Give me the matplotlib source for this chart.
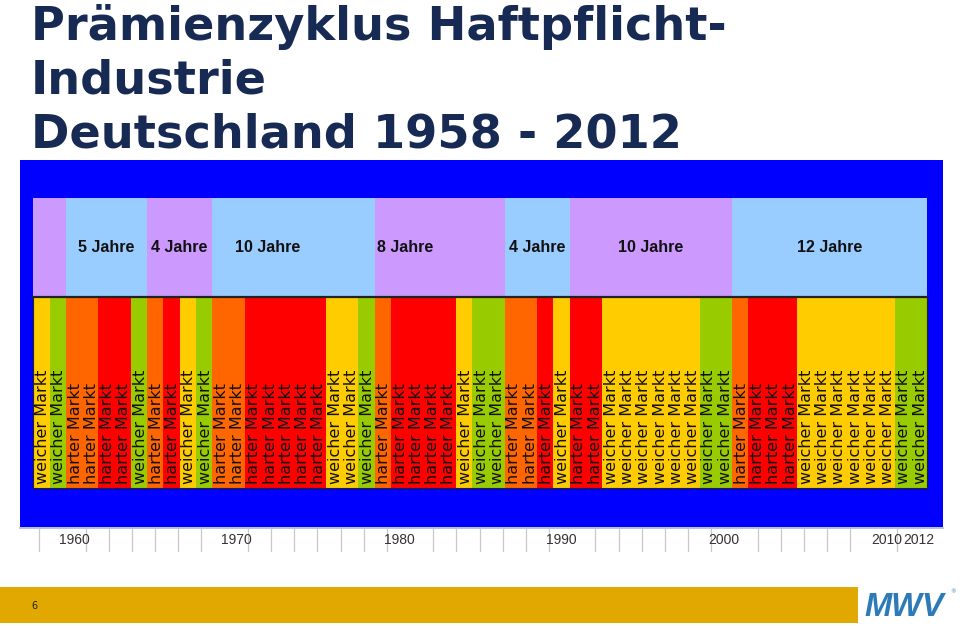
import matplotlib
matplotlib.use("Agg")
import matplotlib.pyplot as plt
from matplotlib.patches import Rectangle
from matplotlib import font_manager as fm
import numpy as np

# ---------------- data ----------------
first_year = 1958
market_phase = ["weich", "weich+", "hart", "hart", "hart+", "hart+", "weich+", "hart", "hart+",
                "weich", "weich+", "hart", "hart", "hart+", "hart+", "hart+", "hart+", "hart+",
                "weich", "weich", "weich+", "hart", "hart+", "hart+", "hart+", "hart+",
                "weich", "weich+", "weich+", "hart", "hart", "hart+", "weich", "hart+", "hart+",
                "weich", "weich", "weich", "weich", "weich", "weich", "weich+", "weich+",
                "hart", "hart+", "hart+", "hart+",
                "weich", "weich", "weich", "weich", "weich", "weich", "weich+", "weich+"]
years = np.arange(first_year, first_year + len(market_phase))

cycle_lengths = [2, 5, 4, 10, 8, 4, 10, 12]
cycle_labels = ["", "5 Jahre", "4 Jahre", "10 Jahre", "8 Jahre", "4 Jahre", "10 Jahre", "12 Jahre"]

tick_years = [1960, 1970, 1980, 1990, 2000, 2010, 2012]
tick_labels = ["1960", "1970", "1980", "1990", "2000", "2010", "2012"]

title_lines = ["Prämienzyklus Haftpflicht-", "Industrie", "Deutschland 1958 - 2012"]

# ---------------- styles ----------------
phase_color = {"weich": "#FFCC00", "weich+": "#99CC00", "hart": "#FF6600", "hart+": "#FF0000"}
phase_text = {"weich": "weicher Markt", "weich+": "weicher Markt",
              "hart": "harter Markt", "hart+": "harter Markt"}
cycle_colors = ["#CC99FF", "#99CCFF"]
label_shift = [0, 0, 0, -1.6, -2.1, 0, 0, 0]

names = {f.name for f in fm.fontManager.ttflist}
def pick(*cands):
    for c in cands:
        if c in names:
            return c
    return "DejaVu Sans"
narrow = pick("Liberation Sans Narrow", "DejaVu Sans Condensed", "Liberation Sans")

W, H = 960, 629
fig = plt.figure(figsize=(W / 100, H / 100), dpi=100)
fig.patch.set_facecolor("white")

def pos(x0, y0, x1, y1):
    return [x0 / W, 1 - y1 / H, (x1 - x0) / W, (y1 - y0) / H]

# background / decoration axes in pixel coordinates
bg = fig.add_axes([0, 0, 1, 1])
bg.set_xlim(0, W)
bg.set_ylim(H, 0)
bg.axis("off")
bg.add_patch(Rectangle((20, 160), 923, 367, facecolor="#0000FF", edgecolor="none"))
# axis strip
bg.plot([20, 943], [527.5, 527.5], color="#A9B4CC", lw=1.2)
grid_k = [0, 2, 3, 4, 5, 6, 7, 9, 10, 11, 12, 13, 14, 15, 17, 18, 19, 20, 21, 22,
          24, 25, 26, 27, 28, 29, 31, 32, 33, 34, 35, 37]
for k in grid_k:
    gx = 39.3 + 23.17 * k
    bg.plot([gx, gx], [529, 551], color="#C8C8C8", lw=0.9)
# footer
bg.add_patch(Rectangle((0, 587), 858, 36, facecolor="#E0A800", edgecolor="none"))
bg.text(31, 606, "6", fontsize=7, color="#222222", va="center", ha="left")
bg.text(864, 607, "MWV", fontsize=23.5, fontweight="bold", style="italic", color="#2C7AB8",
        va="center", ha="left", family=narrow)
bg.text(950, 592, "®", fontsize=4, color="#2C7AB8", va="center", ha="left")

# title
for i, line in enumerate(title_lines):
    bg.text(31, 40 + i * 54, line, fontsize=33.3, fontweight="bold", color="#172A54",
            family="DejaVu Sans", va="baseline", ha="left")

x0, x1 = 33.3, 927.0
xlim = (first_year - 0.5, years[-1] + 0.5)

# cycle band
ab = fig.add_axes(pos(x0, 198, x1, 296))
starts = first_year - 0.5 + np.concatenate([[0], np.cumsum(cycle_lengths)[:-1]])
ab.barh(0.5, cycle_lengths, left=starts, height=1,
        color=[cycle_colors[i % 2] for i in range(len(cycle_lengths))], edgecolor="none")
for s, L, lab, sh in zip(starts, cycle_lengths, cycle_labels, label_shift):
    if lab:
        ab.text(s + L / 2 + sh, 0.5, lab, ha="center", va="center", fontsize=11.5,
                fontweight="bold", family=narrow, color="#111111")
ab.set_xlim(*xlim)
ab.set_ylim(0, 1)
ab.axis("off")

# market columns
ac = fig.add_axes(pos(x0, 297, x1, 488))
ac.bar(years, 1, width=1, color=[phase_color[p] for p in market_phase], edgecolor="none")
for yr, p in zip(years, market_phase):
    ac.text(yr + 0.08, 0.02, phase_text[p], rotation=90, ha="center", va="bottom",
            fontsize=11.5, color="#111111", family="DejaVu Sans")
ac.set_xlim(*xlim)
ac.set_ylim(0, 1)
ac.set_xticks([])
ac.set_yticks([])
for side, sp in ac.spines.items():
    sp.set_color("#222222")
    sp.set_linewidth(0.8)
ac.spines["top"].set_linewidth(1.6)

# year axis strip
aa = fig.add_axes(pos(x0, 529, x1, 551))
aa.set_xlim(*xlim)
aa.set_ylim(0, 1)
aa.axis("off")
for ty, tl in zip(tick_years, tick_labels):
    aa.text(ty, 0.5, tl, ha="center", va="center", fontsize=10, family=narrow, color="#333333")

fig.savefig("out.png", dpi=100)
